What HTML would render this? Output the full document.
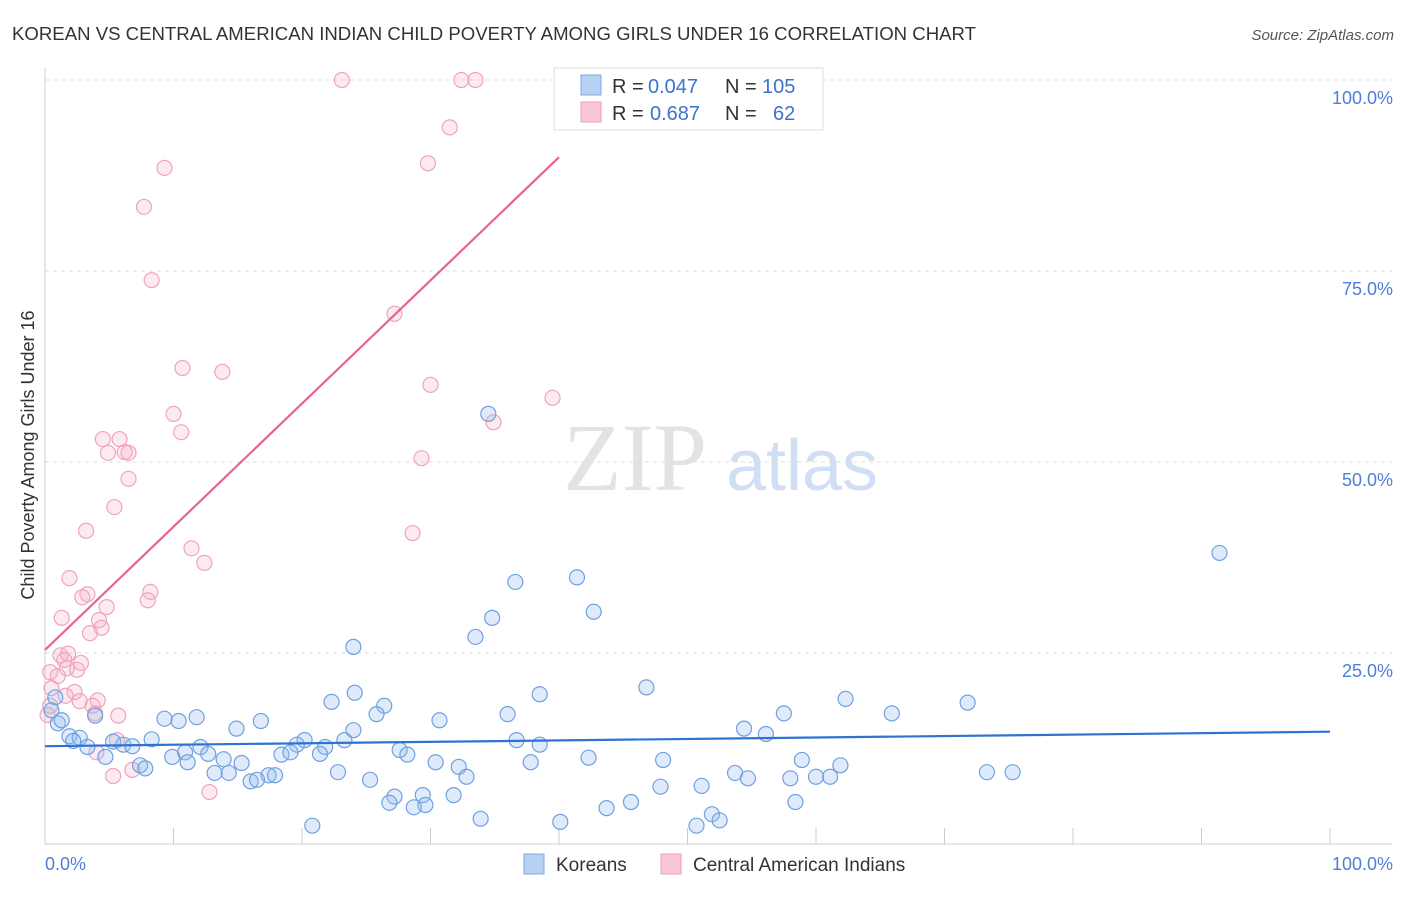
<!DOCTYPE html>
<html><head><meta charset="utf-8"><style>
body{margin:0;background:#fff;font-family:"Liberation Sans",sans-serif}
</style></head><body>
<svg id="c" width="1406" height="892" xmlns="http://www.w3.org/2000/svg">
<text x="12" y="40" font-size="18.6" fill="#333">KOREAN VS CENTRAL AMERICAN INDIAN CHILD POVERTY AMONG GIRLS UNDER 16 CORRELATION CHART</text>
<text x="1394" y="40" font-size="15" fill="#555" font-style="italic" text-anchor="end">Source: ZipAtlas.com</text>
<g>
<text x="635" y="490" font-size="96" fill="#ddd" font-family="Liberation Serif,serif" text-anchor="middle" opacity="0.8">ZIP</text>
<text x="802" y="490" font-size="72" fill="#c6d8f2" text-anchor="middle" opacity="0.8">atlas</text>
</g>
<text transform="translate(34,455) rotate(-90)" font-size="18" fill="#333" text-anchor="middle">Child Poverty Among Girls Under 16</text>
<g id="grid"></g><g id="pts"></g><g id="lines"></g>
<g>
<rect x="554" y="68" width="269" height="62" fill="#fff" stroke="#ddd"/>
<rect x="581" y="75" width="20" height="20" fill="#b7d1f3" stroke="#7fa9e3"/>
<rect x="581" y="102" width="20" height="20" fill="#f8c6d5" stroke="#ee9fb8"/>
<text x="612" y="93" font-size="20" fill="#333">R =</text>
<text x="648" y="93" font-size="20" fill="#3b73d0">0.047</text>
<text x="725" y="93" font-size="20" fill="#333">N =</text>
<text x="762" y="93" font-size="20" fill="#3b73d0">105</text>
<text x="612" y="120" font-size="20" fill="#333">R =</text>
<text x="650" y="120" font-size="20" fill="#3b73d0">0.687</text>
<text x="725" y="120" font-size="20" fill="#333">N =</text>
<text x="773" y="120" font-size="20" fill="#3b73d0">62</text>
</g>
<g>
<rect x="524" y="854" width="20" height="20" fill="#b7d1f3" stroke="#7fa9e3"/>
<text x="556" y="871" font-size="19" fill="#333">Koreans</text>
<rect x="661" y="854" width="20" height="20" fill="#f8c6d5" stroke="#ee9fb8"/>
<text x="693" y="871" font-size="19" fill="#333">Central American Indians</text>
</g>
</svg>
<script>
const yTicks=[25,50,75,100];
const yTickLabels=["25.0%","50.0%","75.0%","100.0%"];
const xTicks=[0,10,20,30,40,50,60,70,80,90,100];
const koreanX=[91.4,34.5,41.4,36.6,42.7,34.8,33.5,24.0,46.8,38.5,24.1,62.3,71.8,65.9,57.5,22.3,26.4,25.8,36.0,30.7,16.8,11.8,9.3,10.4,3.9,0.8,0.5,1.0,1.3,14.9,24.0,54.4,56.1,1.9,2.7,2.2,5.3,6.1,6.8,8.3,3.3,20.2,19.6,23.3,21.8,36.7,38.5,12.1,10.9,12.7,18.4,19.1,21.4,27.6,28.2,4.7,9.9,13.9,11.1,7.4,7.8,15.3,30.4,32.2,37.8,42.3,48.1,58.9,61.9,13.2,14.3,17.4,17.9,22.8,32.8,25.3,53.7,54.7,58.0,60.0,61.1,73.3,75.3,16.0,16.5,47.9,51.1,29.4,31.8,27.2,26.8,29.6,28.7,45.6,43.7,58.4,51.9,52.5,50.7,33.9,40.1,20.8];
const koreanY=[38.1,56.3,34.9,34.3,30.4,29.6,27.1,25.8,20.5,19.6,19.8,19.0,18.5,17.1,17.1,18.6,18.1,17.0,17.0,16.2,16.1,16.6,16.4,16.1,16.8,19.2,17.5,15.8,16.2,15.1,14.9,15.1,14.4,14.1,13.9,13.5,13.4,13.0,12.8,13.7,12.7,13.6,13.0,13.6,12.7,13.6,13.0,12.7,12.0,11.8,11.7,12.0,11.8,12.3,11.7,11.4,11.4,11.1,10.7,10.3,9.9,10.6,10.7,10.1,10.7,11.3,11.0,11.0,10.3,9.3,9.3,9.0,9.0,9.4,8.8,8.4,9.3,8.6,8.6,8.8,8.8,9.4,9.4,8.2,8.4,7.5,7.6,6.4,6.4,6.2,5.4,5.1,4.8,5.5,4.7,5.5,3.9,3.1,2.4,3.3,2.9,2.4];
const caiX=[23.1,32.4,33.5,31.5,29.8,9.3,7.7,8.3,27.2,10.7,13.8,30.0,39.5,10.0,34.9,10.6,4.5,5.8,4.9,6.2,6.5,29.3,6.5,5.4,3.2,28.6,11.4,12.4,1.9,8.2,8.0,3.3,2.9,4.8,1.3,4.2,4.4,3.5,1.2,1.8,1.5,2.8,1.7,2.5,0.4,1.0,0.5,2.3,1.6,4.1,2.7,0.4,3.7,3.9,5.7,0.2,5.6,4.0,5.3,6.8,12.8];
const caiY=[100,100,100,93.8,89.1,88.5,83.4,73.8,69.4,62.3,61.8,60.1,58.4,56.3,55.2,53.9,53.0,53.0,51.2,51.3,51.2,50.5,47.8,44.1,41.0,40.7,38.7,36.8,34.8,33.0,31.9,32.7,32.3,31.0,29.6,29.3,28.3,27.6,24.7,24.9,24.1,23.7,23.0,22.8,22.5,22.0,20.4,19.9,19.4,18.8,18.7,18.1,18.1,17.1,16.8,16.9,13.6,12.0,8.9,9.7,6.8];
const koreanLine=[[0,12.8],[100,14.7]];
const caiLine=[[0,25.4],[40,89.9]];
const NS="http://www.w3.org/2000/svg";
const sx=v=>45+v*12.85, sy=v=>844-v*7.64;
function mk(t,a,p){const e=document.createElementNS(NS,t);for(const k in a)e.setAttribute(k,a[k]);p.appendChild(e);return e;}
const grid=document.getElementById('grid');
yTicks.forEach((t,i)=>{
 const l=mk('line',{x1:45,x2:1392,y1:sy(t),y2:sy(t),stroke:'#ddd','stroke-dasharray':'4,4'},grid);
 
 
 const tx=mk('text',{x:1393,y:sy(t)+24,'font-size':18,fill:'#4f7ed8','text-anchor':'end'},grid);
 tx.textContent=yTickLabels[i];
 
 
});
mk('line',{x1:45,x2:1392,y1:80,y2:80,stroke:'#ddd','stroke-dasharray':'4,4'},grid);
mk('line',{x1:45,x2:45,y1:68,y2:844,stroke:'#ccc'},grid);
const ax=mk('line',{x1:45,x2:1392,y1:844,y2:844,stroke:'#ccc'},grid);


xTicks.forEach(t=>{const l=mk('line',{x1:sx(t),x2:sx(t),y1:828,y2:844,stroke:'#ccc'},grid);
 
 });
let t0=mk('text',{x:45,y:870,'font-size':18,fill:'#4f7ed8'},grid);t0.textContent='0.0%';


let t1=mk('text',{x:1393,y:870,'font-size':18,fill:'#4f7ed8','text-anchor':'end'},grid);t1.textContent='100.0%';


const pts=document.getElementById('pts');
caiX.forEach((x,i)=>{const c=mk('circle',{cx:sx(x),cy:sy(caiY[i]),r:7.5,fill:'rgba(245,170,195,0.25)',stroke:'#f0a3bc','stroke-width':1.2},pts);
 
 });
koreanX.forEach((x,i)=>{const c=mk('circle',{cx:sx(x),cy:sy(koreanY[i]),r:7.5,fill:'rgba(150,190,240,0.3)',stroke:'#6fa0e0','stroke-width':1.2},pts);
 
 });
const lines=document.getElementById('lines');
let bl=mk('line',{x1:sx(koreanLine[0][0]),y1:sy(koreanLine[0][1]),x2:sx(koreanLine[1][0]),y2:sy(koreanLine[1][1]),stroke:'#2f73d2','stroke-width':2.2},lines);


let pl=mk('line',{x1:sx(caiLine[0][0]),y1:sy(caiLine[0][1]),x2:sx(caiLine[1][0]),y2:sy(caiLine[1][1]),stroke:'#e8648e','stroke-width':2.2},lines);


</script>
</body></html>
